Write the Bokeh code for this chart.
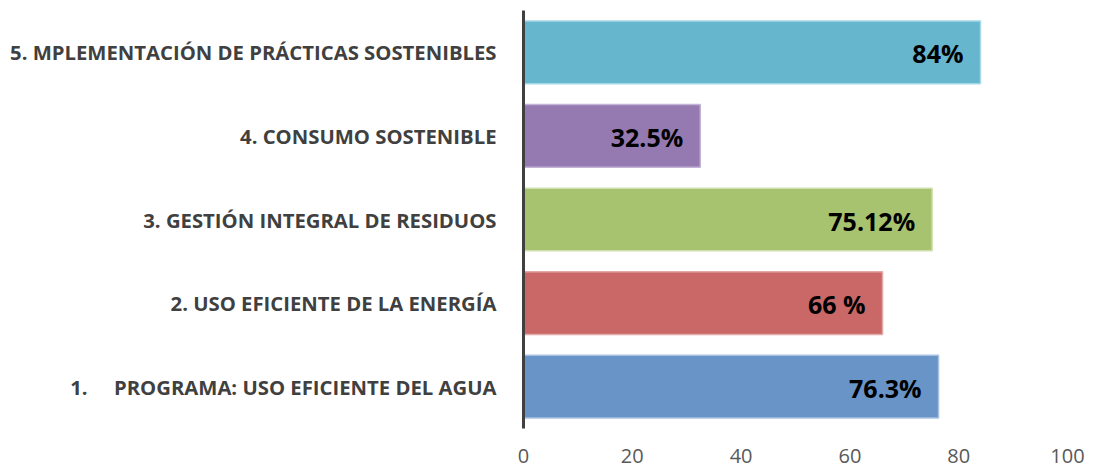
from bokeh.plotting import figure
from bokeh.models import ColumnDataSource, FactorRange, Range1d, FixedTicker
from bokeh.core.properties import value
from bokeh.embed import file_html
from bokeh.resources import INLINE

categories = [
    "1.\u00a0\u00a0\u00a0\u00a0\u00a0PROGRAMA: USO EFICIENTE DEL AGUA",
    "2. USO EFICIENTE DE LA ENERGÍA",
    "3. GESTIÓN INTEGRAL DE RESIDUOS",
    "4. CONSUMO SOSTENIBLE",
    "5. MPLEMENTACIÓN DE PRÁCTICAS SOSTENIBLES",
]
values = [76.3, 66, 75.12, 32.5, 84]
value_labels = ["76.3%", "66 %", "75.12%", "32.5%", "84%"]
fill_colors = ["#6894C8", "#C96866", "#A7C370", "#947AB1", "#66B6CE"]
line_colors = ["#A9C2E3", "#E3A9A8", "#CFE0AE", "#C3B3D6", "#A6D7E6"]
x_ticks = [0, 20, 40, 60, 80, 100]

source = ColumnDataSource(dict(cat=categories, val=values, lab=value_labels,
                               fill=fill_colors, line=line_colors))

p = figure(width=1094, height=468, output_backend="svg", toolbar_location=None,
           y_range=FactorRange(*categories), x_range=Range1d(0, 100),
           min_border_left=523, min_border_right=27, min_border_top=10,
           min_border_bottom=40)

p.hbar(y="cat", right="val", left=0, height=0.75, source=source,
       fill_color="fill", line_color="line", line_width=1.5)

p.text(x="val", y="cat", text="lab", source=source, x_offset=-17, y_offset=1,
       text_align="right", text_baseline="middle",
       text_font=value("Open Sans"), text_font_style="bold",
       text_font_size="25px", text_color="#000000")

p.outline_line_color = None
p.xgrid.grid_line_color = None
p.ygrid.grid_line_color = None
p.background_fill_color = "white"
p.border_fill_color = "white"

xa = p.xaxis[0]
xa.ticker = FixedTicker(ticks=x_ticks)
xa.axis_line_color = None
xa.major_tick_line_color = None
xa.minor_tick_line_color = None
xa.major_label_text_font = "Open Sans"
xa.major_label_text_font_size = "20px"
xa.major_label_text_color = "#595959"
xa.major_label_standoff = 14

ya = p.yaxis[0]
ya.axis_line_color = "#404040"
ya.axis_line_width = 3
ya.major_tick_line_color = None
ya.minor_tick_line_color = None
ya.major_label_text_font = "Open Sans"
ya.major_label_text_font_style = "bold"
ya.major_label_text_font_size = "20.3px"
ya.major_label_text_color = "#404040"
ya.major_label_standoff = 21

open("out.html", "w").write(file_html(p, INLINE))
